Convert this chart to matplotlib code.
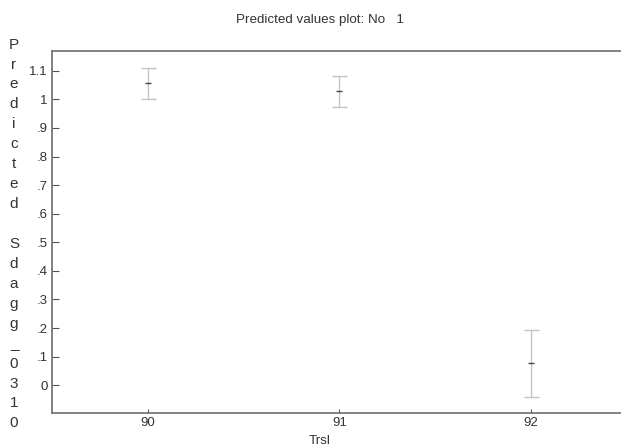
import matplotlib
matplotlib.use("Agg")
import matplotlib.pyplot as plt
from matplotlib import font_manager

# values
trsl = [90, 91, 92]
predicted = [1.056, 1.029, 0.077]
lower = [1.0, 0.974, -0.04]
upper = [1.11, 1.081, 0.193]
yticks = [0, 0.1, 0.2, 0.3, 0.4, 0.5, 0.6, 0.7, 0.8, 0.9, 1.0, 1.1]
ytick_labels = ['0', '.1', '.2', '.3', '.4', '.5', '.6', '.7', '.8', '.9', '1', '1.1']
ylabel = "Predicted Sdagg_0310"

names = {f.name for f in font_manager.fontManager.ttflist}
fam = ['Liberation Sans Narrow', 'Liberation Sans', 'DejaVu Sans']
fam = [f for f in fam if f in names] or ['DejaVu Sans']
plt.rcParams['font.family'] = fam

txt = '#333333'
fig = plt.figure(figsize=(6.21, 4.48), dpi=100)
ax = fig.add_axes([52/621, 1 - 412.7/448, 1 - 52/621, (412.7 - 51)/448])

err = [[p - l for p, l in zip(predicted, lower)],
       [u - p for p, u in zip(predicted, upper)]]
ax.errorbar(trsl, predicted, yerr=err, fmt='none', ecolor='#c4c4c4',
            elinewidth=1.0, capsize=5.4, capthick=1.0)
ax.plot(trsl, predicted, linestyle='none', marker='_', color='#444444',
        markersize=5, markeredgewidth=1.0)

ax.set_xlim(89.5, 92.47)
ax.set_ylim(-0.096, 1.169)
ax.set_xticks(trsl)
ax.set_xticklabels([str(t) for t in trsl])
ax.set_yticks(yticks)
ax.set_yticklabels(ytick_labels)
ax.tick_params(axis='y', direction='in', length=5, width=0.8, color='#555555',
               labelsize=9.5, labelcolor=txt, pad=3)
ax.tick_params(axis='x', direction='in', length=3, width=0.8, color='#555555',
               labelsize=9.5, labelcolor=txt, pad=3)
for s in ['left', 'bottom', 'top']:
    ax.spines[s].set_color('#777777')
    ax.spines[s].set_linewidth(1.3)
ax.spines['right'].set_visible(False)

fig.text(320/621, 1 - 20/448, "Predicted values plot: No   1", ha='center',
         va='center', fontsize=9.6, color=txt)
fig.text(320/621, 1 - 441/448, "Trsl", ha='center', va='center',
         fontsize=9.6, color=txt)
fig.text(14/621, 1 - 234/448, "\n".join(ylabel), ha='center', va='center',
         fontsize=11, color=txt, linespacing=1.54)

fig.savefig("out.png", dpi=100)
